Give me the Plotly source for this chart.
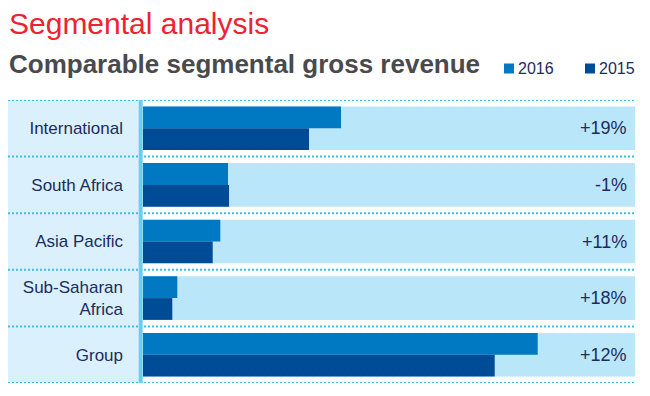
import plotly.graph_objects as go

# ---- data ----
segments = ["International", "South Africa", "Asia Pacific", "Sub-Saharan<br>Africa", "Group"]
rev_2016 = [198, 85, 77.3, 34.3, 394.7]
rev_2015 = [166, 86, 69.7, 29.3, 351.7]
growth_labels = ["+19%", "-1%", "+11%", "+18%", "+12%"]
series_names = ["2016", "2015"]
track_max = 492  # full length of the light track (axis maximum)

# ---- style ----
C2016 = "#0079c2"
C2015 = "#004b96"
TRACK = "#bae6fa"
PANEL = "#daf0fc"
VLINE = "#6acdf3"
DOT = "#3cbfe2"
NAVY = "#1d2b5e"
FONT = "Liberation Sans, Arial, sans-serif"

FW, FH = 650, 396
L, R, T, Bm = 143, 15, 100, 13
W = FW - L - R
H = FH - T - Bm


def px_x(px):
    return (px - L) / W


def px_y(py):
    return (FH - Bm - py) / H


fig = go.Figure()
fig.add_trace(go.Bar(
    y=segments, x=[track_max] * len(segments), orientation="h",
    width=0.77, marker=dict(color=TRACK, line=dict(width=0)),
    hoverinfo="skip", showlegend=False,
))
fig.add_trace(go.Bar(
    y=segments, x=rev_2016, orientation="h", name=series_names[0],
    width=0.385, offset=-0.385, marker=dict(color=C2016, line=dict(width=0)),
    showlegend=False,
))
fig.add_trace(go.Bar(
    y=segments, x=rev_2015, orientation="h", name=series_names[1],
    width=0.385, offset=0, marker=dict(color=C2015, line=dict(width=0)),
    showlegend=False,
))

shapes = []
# left label panel
shapes.append(dict(type="rect", xref="paper", yref="paper",
                   x0=px_x(8), x1=px_x(139), y0=0, y1=1,
                   fillcolor=PANEL, line=dict(width=0), layer="below"))
# dotted separators
for i in range(len(segments) + 1):
    shapes.append(dict(type="line", xref="paper", yref="y",
                       x0=px_x(8), x1=1, y0=i - 0.5, y1=i - 0.5,
                       line=dict(color=DOT, width=2, dash="2px,2px"),
                       layer="above"))
# vertical divider
shapes.append(dict(type="rect", xref="paper", yref="paper",
                   x0=px_x(138.7), x1=px_x(142.7), y0=0, y1=1,
                   fillcolor=VLINE, line=dict(width=0), layer="above"))
# legend squares
for name, col, x0 in [(series_names[0], C2016, 504), (series_names[1], C2015, 585)]:
    shapes.append(dict(type="rect", xref="paper", yref="paper",
                       x0=px_x(x0), x1=px_x(x0 + 10), y0=px_y(73.5), y1=px_y(63.5),
                       fillcolor=col, line=dict(width=0)))

annotations = []
annotations.append(dict(text="Segmental analysis", xref="paper", yref="paper",
                        x=px_x(7), y=px_y(23.5), xanchor="left", yanchor="middle",
                        showarrow=False, font=dict(family=FONT, size=30, color="#ee2231")))
annotations.append(dict(text="<b>Comparable segmental gross revenue</b>", xref="paper", yref="paper",
                        x=px_x(7), y=px_y(64), xanchor="left", yanchor="middle",
                        showarrow=False, font=dict(family=FONT, size=26, color="#4a4a4d")))
for name, x0 in [(series_names[0], 516), (series_names[1], 597)]:
    annotations.append(dict(text=name, xref="paper", yref="paper",
                            x=px_x(x0), y=px_y(68), xanchor="left", yanchor="middle",
                            showarrow=False, font=dict(family=FONT, size=16, color=NAVY)))
for seg, lab in zip(segments, growth_labels):
    annotations.append(dict(text=lab, xref="x", yref="y", x=track_max, y=seg,
                            xanchor="right", yanchor="middle", xshift=-6,
                            showarrow=False, font=dict(family=FONT, size=18, color=NAVY)))

fig.update_layout(
    width=FW, height=FH,
    margin=dict(l=L, r=R, t=T, b=Bm),
    paper_bgcolor="white", plot_bgcolor="rgba(0,0,0,0)",
    barmode="overlay",
    shapes=shapes, annotations=annotations,
    showlegend=False,
    font=dict(family=FONT),
)
fig.update_xaxes(range=[0, track_max], visible=False, fixedrange=True)
fig.update_yaxes(type="category", range=[len(segments) - 0.5, -0.5],
                 showgrid=False, zeroline=False, showline=False, ticks="",
                 ticklabelstandoff=19,
                 tickfont=dict(family=FONT, size=17, color=NAVY), fixedrange=True)

fig.write_html(
    "out.html",
    config={"displayModeBar": False},
    post_script="document.body.style.margin='0';document.body.style.overflow='hidden';",
)
